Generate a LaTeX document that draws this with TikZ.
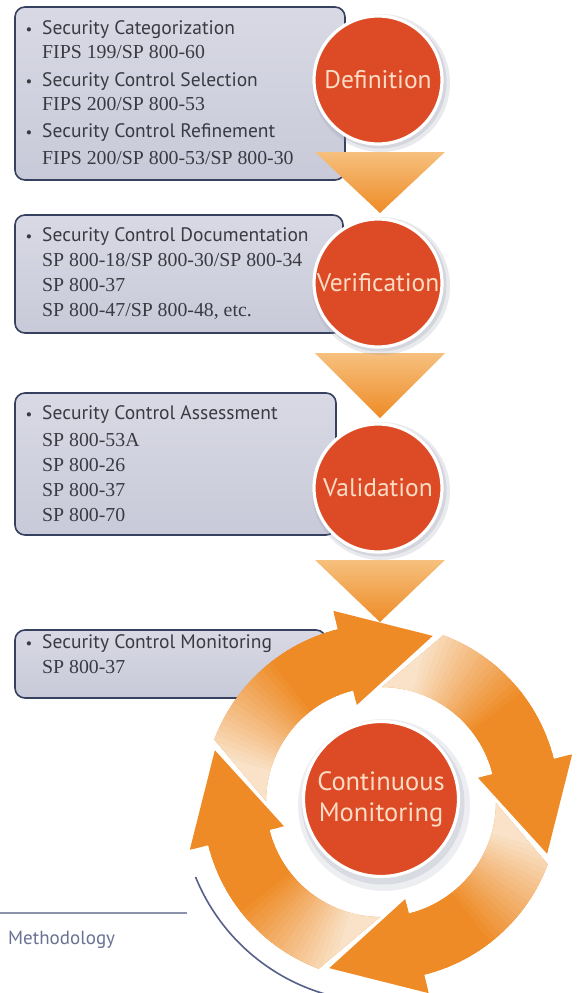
\documentclass[tikz,border=0pt]{standalone}
\usepackage{fontspec}
\newfontfamily\mysans{PT Sans}
\newfontfamily\myserif{Liberation Serif}
\usetikzlibrary{calc}
\definecolor{boxfill}{HTML}{C9CAD9}
\definecolor{boxfilltop}{HTML}{D8D9E4}
\definecolor{boxline}{HTML}{36405F}
\definecolor{txt}{HTML}{3A3A42}
\definecolor{redc}{HTML}{DC4A26}
\definecolor{peach}{HTML}{FCDCC4}
\definecolor{orng}{HTML}{EE8B26}
\definecolor{pale}{HTML}{F9E2C8}
\definecolor{trtop}{HTML}{F6C07E}
\definecolor{bluearc}{HTML}{566088}
\definecolor{greyline}{HTML}{8C92AC}
\definecolor{methtxt}{HTML}{6A7294}
\definecolor{shadowc}{HTML}{8A90A6}
\newcommand\cyclearrow[1]{%
  \pgfmathsetmacro\cyA{#1+14.5}%
  \pgfmathsetmacro\cyB{#1+34.5}%
  \pgfmathsetmacro\cyH{#1+90}%
  \pgfmathsetmacro\cyT{#1+90+31.3}%
  \fill[orng] (\cyA:115) -- (\cyB:178) arc[start angle=\cyB, end angle=\cyH, radius=178] -- (\cyH:197) -- (\cyT:174) -- (\cyH:100) -- (\cyH:115) arc[start angle=\cyH, end angle=\cyA, radius=115] -- cycle;
  \begin{scope}
    \clip (\cyA:115) -- (\cyB:178) arc[start angle=\cyB, end angle=\cyH, radius=178] -- (\cyH:197) -- (\cyT:174) -- (\cyH:100) -- (\cyH:115) arc[start angle=\cyH, end angle=\cyA, radius=115] -- cycle;
    \foreach \i in {0,...,44} {
      \pgfmathsetmacro\cyP{#1+2*\i}%
      \pgfmathsetmacro\cyQ{\cyP+2.6}%
      \pgfmathsetmacro\cyM{max(0,min(100,(\i/44-0.32)/0.43*100))}%
      \fill[orng!\cyM!pale] (\cyP:105) -- (\cyP:195) arc[start angle=\cyP, end angle=\cyQ, radius=195] -- (\cyQ:105) arc[start angle=\cyQ, end angle=\cyP, radius=105] -- cycle;
    }
  \end{scope}
}
\begin{document}
\begin{tikzpicture}[x=1pt,y=-1pt,
  infobox/.style={draw=boxline, line width=1.6pt, rounded corners=10pt, top color=boxfilltop, bottom color=boxfill},
  itemtxt/.style={font=\mysans\fontsize{19.5}{24}\selectfont, text=txt, anchor=base west, inner sep=0pt},
  reftxt/.style={font=\myserif\fontsize{19.8}{24}\selectfont, text=txt, anchor=base west, inner sep=0pt},
  bul/.style={font=\mysans\fontsize{15}{16}\selectfont, text=txt, anchor=base, inner sep=0pt},
  phase/.style={circle, fill=redc, draw=white, line width=3.2pt, minimum size=128pt, inner sep=0pt, text=peach, font=\mysans\fontsize{25.5}{30}\selectfont, align=center},
  tri/.style={top color=trtop, bottom color=orng}
]
\useasboundingbox (0,0) rectangle (581,993);
\fill[white] (0,0) rectangle (581,993);

% ---------- boxes ----------
\path[infobox] (15,7) rectangle (345,180);
\path[infobox] (15,215) rectangle (343,333);
\path[infobox] (15,393) rectangle (336,535);
\path[infobox] (15,630) rectangle (326,698);

% box 1 text
\node[bul] (b1d1) at (29,34) {•};
\node[itemtxt] (b1t1) at (42,34) {Security Categorization};
\node[reftxt] (b1r1) at (42,58) {FIPS 199/SP 800-60};
\node[bul] (b1d2) at (29,86) {•};
\node[itemtxt] (b1t2) at (42,86) {Security Control Selection};
\node[reftxt] (b1r2) at (42,110) {FIPS 200/SP 800-53};
\node[bul] (b1d3) at (29,137) {•};
\node[itemtxt] (b1t3) at (42,137) {Security Control Refinement};
\node[reftxt] (b1r3) at (42,164) {FIPS 200/SP 800-53/SP 800-30};

% box 2 text
\node[bul] (b2d1) at (29,241) {•};
\node[itemtxt] (b2t1) at (42,241) {Security Control Documentation};
\node[reftxt] (b2r1) at (42,266) {SP 800-18/SP 800-30/SP 800-34};
\node[reftxt] (b2r2) at (42,291) {SP 800-37};
\node[reftxt] (b2r3) at (42,316) {SP 800-47/SP 800-48, etc.};

% box 3 text
\node[bul] (b3d1) at (29,419) {•};
\node[itemtxt] (b3t1) at (42,419) {Security Control Assessment};
\node[reftxt] (b3r1) at (42,446) {SP 800-53A};
\node[reftxt] (b3r2) at (42,471) {SP 800-26};
\node[reftxt] (b3r3) at (42,496) {SP 800-37};
\node[reftxt] (b3r4) at (42,521) {SP 800-70};

% box 4 text
\node[bul] (b4d1) at (29,648) {•};
\node[itemtxt] (b4t1) at (42,648) {Security Control Monitoring};
\node[reftxt] (b4r1) at (42,673) {SP 800-37};

% ---------- footer line and blue arc ----------
\draw[greyline, line width=2pt] (0,913) -- (187,913);
\node[font=\mysans\fontsize{19}{22}\selectfont, text=methtxt, anchor=base west, inner sep=0pt] (meth) at (8,944) {Methodology};
\draw[bluearc, line width=1.6pt] (381,802) ++(158:200) arc[start angle=158, end angle=100, radius=200];

% ---------- down triangles ----------
\shade[tri] (315,152) -- (445,152) -- (380,213) -- cycle;
\shade[tri] (315,353) -- (445,353) -- (380,418) -- cycle;

% ---------- cycle ----------
\begin{scope}[shift={(381,802)}]
  \cyclearrow{166}
  \cyclearrow{256}
  \cyclearrow{346}
  \cyclearrow{436}
\end{scope}
\shade[tri] (315,560) -- (445,560) -- (380,622) -- cycle;

% ---------- circles ----------
\foreach \cy in {80,283,488} {
  \fill[shadowc, opacity=0.18] (381,\cy+3) circle (69);
  \fill[shadowc, opacity=0.22] (380,\cy+2) circle (66.5);
}
\node[phase] (def) at (378,80) {Definition};
\node[phase] (ver) at (378,283) {Verification};
\node[phase] (val) at (378,488) {Validation};

\fill[shadowc, opacity=0.15] (384,805) circle (86);
\fill[shadowc, opacity=0.2] (383,803) circle (81.5);
\node[phase, minimum size=155pt, font=\mysans\fontsize{26.5}{31}\selectfont] (cm) at (381,799) {Continuous\\Monitoring};
\end{tikzpicture}
\end{document}
